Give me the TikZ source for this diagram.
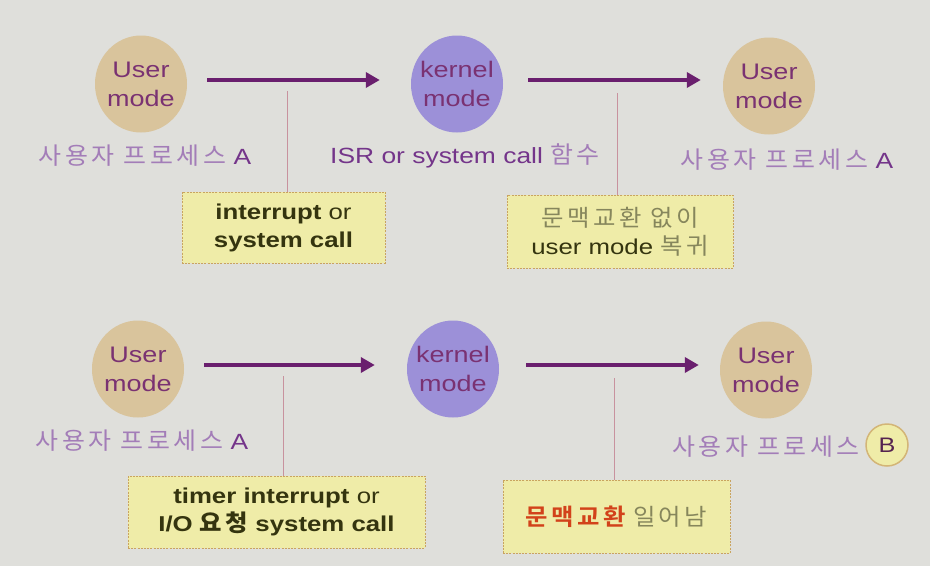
\documentclass[tikz,border=0pt]{standalone}
\usepackage{fontspec}
\setmainfont{Liberation Sans}[FakeStretch=1.2]
\newfontfamily\kr{Noto Sans CJK KR}[FakeStretch=1.05, Scale=1.08, LetterSpace=15]
\newfontfamily\krb{Noto Sans CJK KR Bold}[FakeStretch=1.05, Scale=1.08, LetterSpace=15]
\usetikzlibrary{arrows.meta,shapes.geometric}

\definecolor{bgc}{HTML}{DFDFDB}
\definecolor{userfill}{HTML}{D9C49C}
\definecolor{kernfill}{HTML}{9C90D8}
\definecolor{modetext}{HTML}{7A3272}
\definecolor{lblsoft}{HTML}{A37DB8}
\definecolor{lbldark}{HTML}{74358A}
\definecolor{arrowc}{HTML}{6A1F6E}
\definecolor{tiec}{HTML}{C8929E}
\definecolor{notefill}{HTML}{EFECA8}
\definecolor{notedraw}{HTML}{C9A460}
\definecolor{notetext}{HTML}{34340F}
\definecolor{notesoft}{HTML}{86865C}
\definecolor{hot}{HTML}{D2421A}
\definecolor{ringc}{HTML}{D3B577}

\begin{document}
\begin{tikzpicture}[x=1pt,y=-1pt,
  usermode/.style={ellipse, fill=userfill, minimum width=92pt, minimum height=97pt,
    inner sep=-14pt, text=modetext, align=center, font=\fontsize{22.5}{29}\selectfont},
  kernmode/.style={usermode, fill=kernfill},
  proc/.style={inner sep=0pt, text=lblsoft, font=\fontsize{22}{26}\selectfont},
  note/.style={draw=notedraw, dash pattern=on 2pt off 1.2pt, line width=1pt,
    fill=notefill, inner sep=0pt, align=center, text=notetext,
    font=\fontsize{21.5}{28}\selectfont},
  flow/.style={draw=arrowc, line width=3.5pt, -{Triangle[length=14pt,width=15pt]}},
  tie/.style={draw=tiec, line width=0.9pt}
]
% canvas
\fill[bgc] (0,0) rectangle (930,566);
\useasboundingbox (0,0) rectangle (930,566);

% ---------- first row: mode switch without a context switch ----------
\node[usermode] (u1) at (141,84) {User\\mode};
\node[kernmode] (k1) at (457,84) {kernel\\mode};
\node[usermode] (u2) at (769,86) {User\\mode};

\node[proc] (p1) at (145,156) {{\kr 사용자 프로세스} \textcolor{lbldark}{A}};
\node[proc, text=lbldark] (isr) at (465,156) {ISR or system call \textcolor{lblsoft}{\kr 함수}};
\node[proc] (p2) at (787,160) {{\kr 사용자 프로세스} \textcolor{lbldark}{A}};

\draw[flow, shorten <=20pt, shorten >=31pt]
  ([yshift=4pt]u1.east) -- ([yshift=4pt]u1.east -| k1.west);
\draw[flow, shorten <=25pt, shorten >=22pt]
  ([yshift=4pt]k1.east) -- ([yshift=4pt]k1.east -| u2.west);

\node[note, minimum width=203pt, minimum height=71pt] (n1) at (283.5,227.5)
  {\textbf{interrupt} or\\\textbf{system call}};
\node[note, minimum width=226pt, minimum height=73pt] (n2) at (620,231.5)
  {\textcolor{notesoft}{\kr 문맥교환 없이}\\user mode \textcolor{notesoft}{\kr 복귀}};

\coordinate (t1) at (287,91);
\coordinate (t2) at (617,93);
\draw[tie] (t1) -- (t1 |- n1.north);
\draw[tie] (t2) -- (t2 |- n2.north);

% ---------- second row: mode switch with a context switch ----------
\node[usermode] (u3) at (138,369) {User\\mode};
\node[kernmode] (k2) at (453,369) {kernel\\mode};
\node[usermode] (u4) at (766,370) {User\\mode};

\node[proc] (p3) at (142,441) {{\kr 사용자 프로세스} \textcolor{lbldark}{A}};
\node[proc] (p4) at (766,447) {\kr 사용자 프로세스};
\node[circle, draw=ringc, line width=1.5pt, fill=notefill, minimum size=42pt,
  inner sep=0pt, text=modetext!70!black, font=\fontsize{21}{24}\selectfont]
  (pb) at (887,445) {B};

\draw[flow, shorten <=20pt, shorten >=32pt]
  ([yshift=4pt]u3.east) -- ([yshift=4pt]u3.east -| k2.west);
\draw[flow, shorten <=27pt, shorten >=21pt]
  ([yshift=4pt]k2.east) -- ([yshift=4pt]k2.east -| u4.west);

\node[note, minimum width=297pt, minimum height=72pt] (n3) at (276.5,512)
  {\textbf{timer interrupt} or\\\textbf{I/O {\krb 요청} system call}};
\node[note, minimum width=227pt, minimum height=73pt] (n4) at (616.5,516.5)
  {\textcolor{hot}{\krb 문맥교환} \textcolor{notesoft}{\kr 일어남}};

\coordinate (t3) at (283,376);
\coordinate (t4) at (614,378);
\draw[tie] (t3) -- (t3 |- n3.north);
\draw[tie] (t4) -- (t4 |- n4.north);
\end{tikzpicture}
\end{document}
